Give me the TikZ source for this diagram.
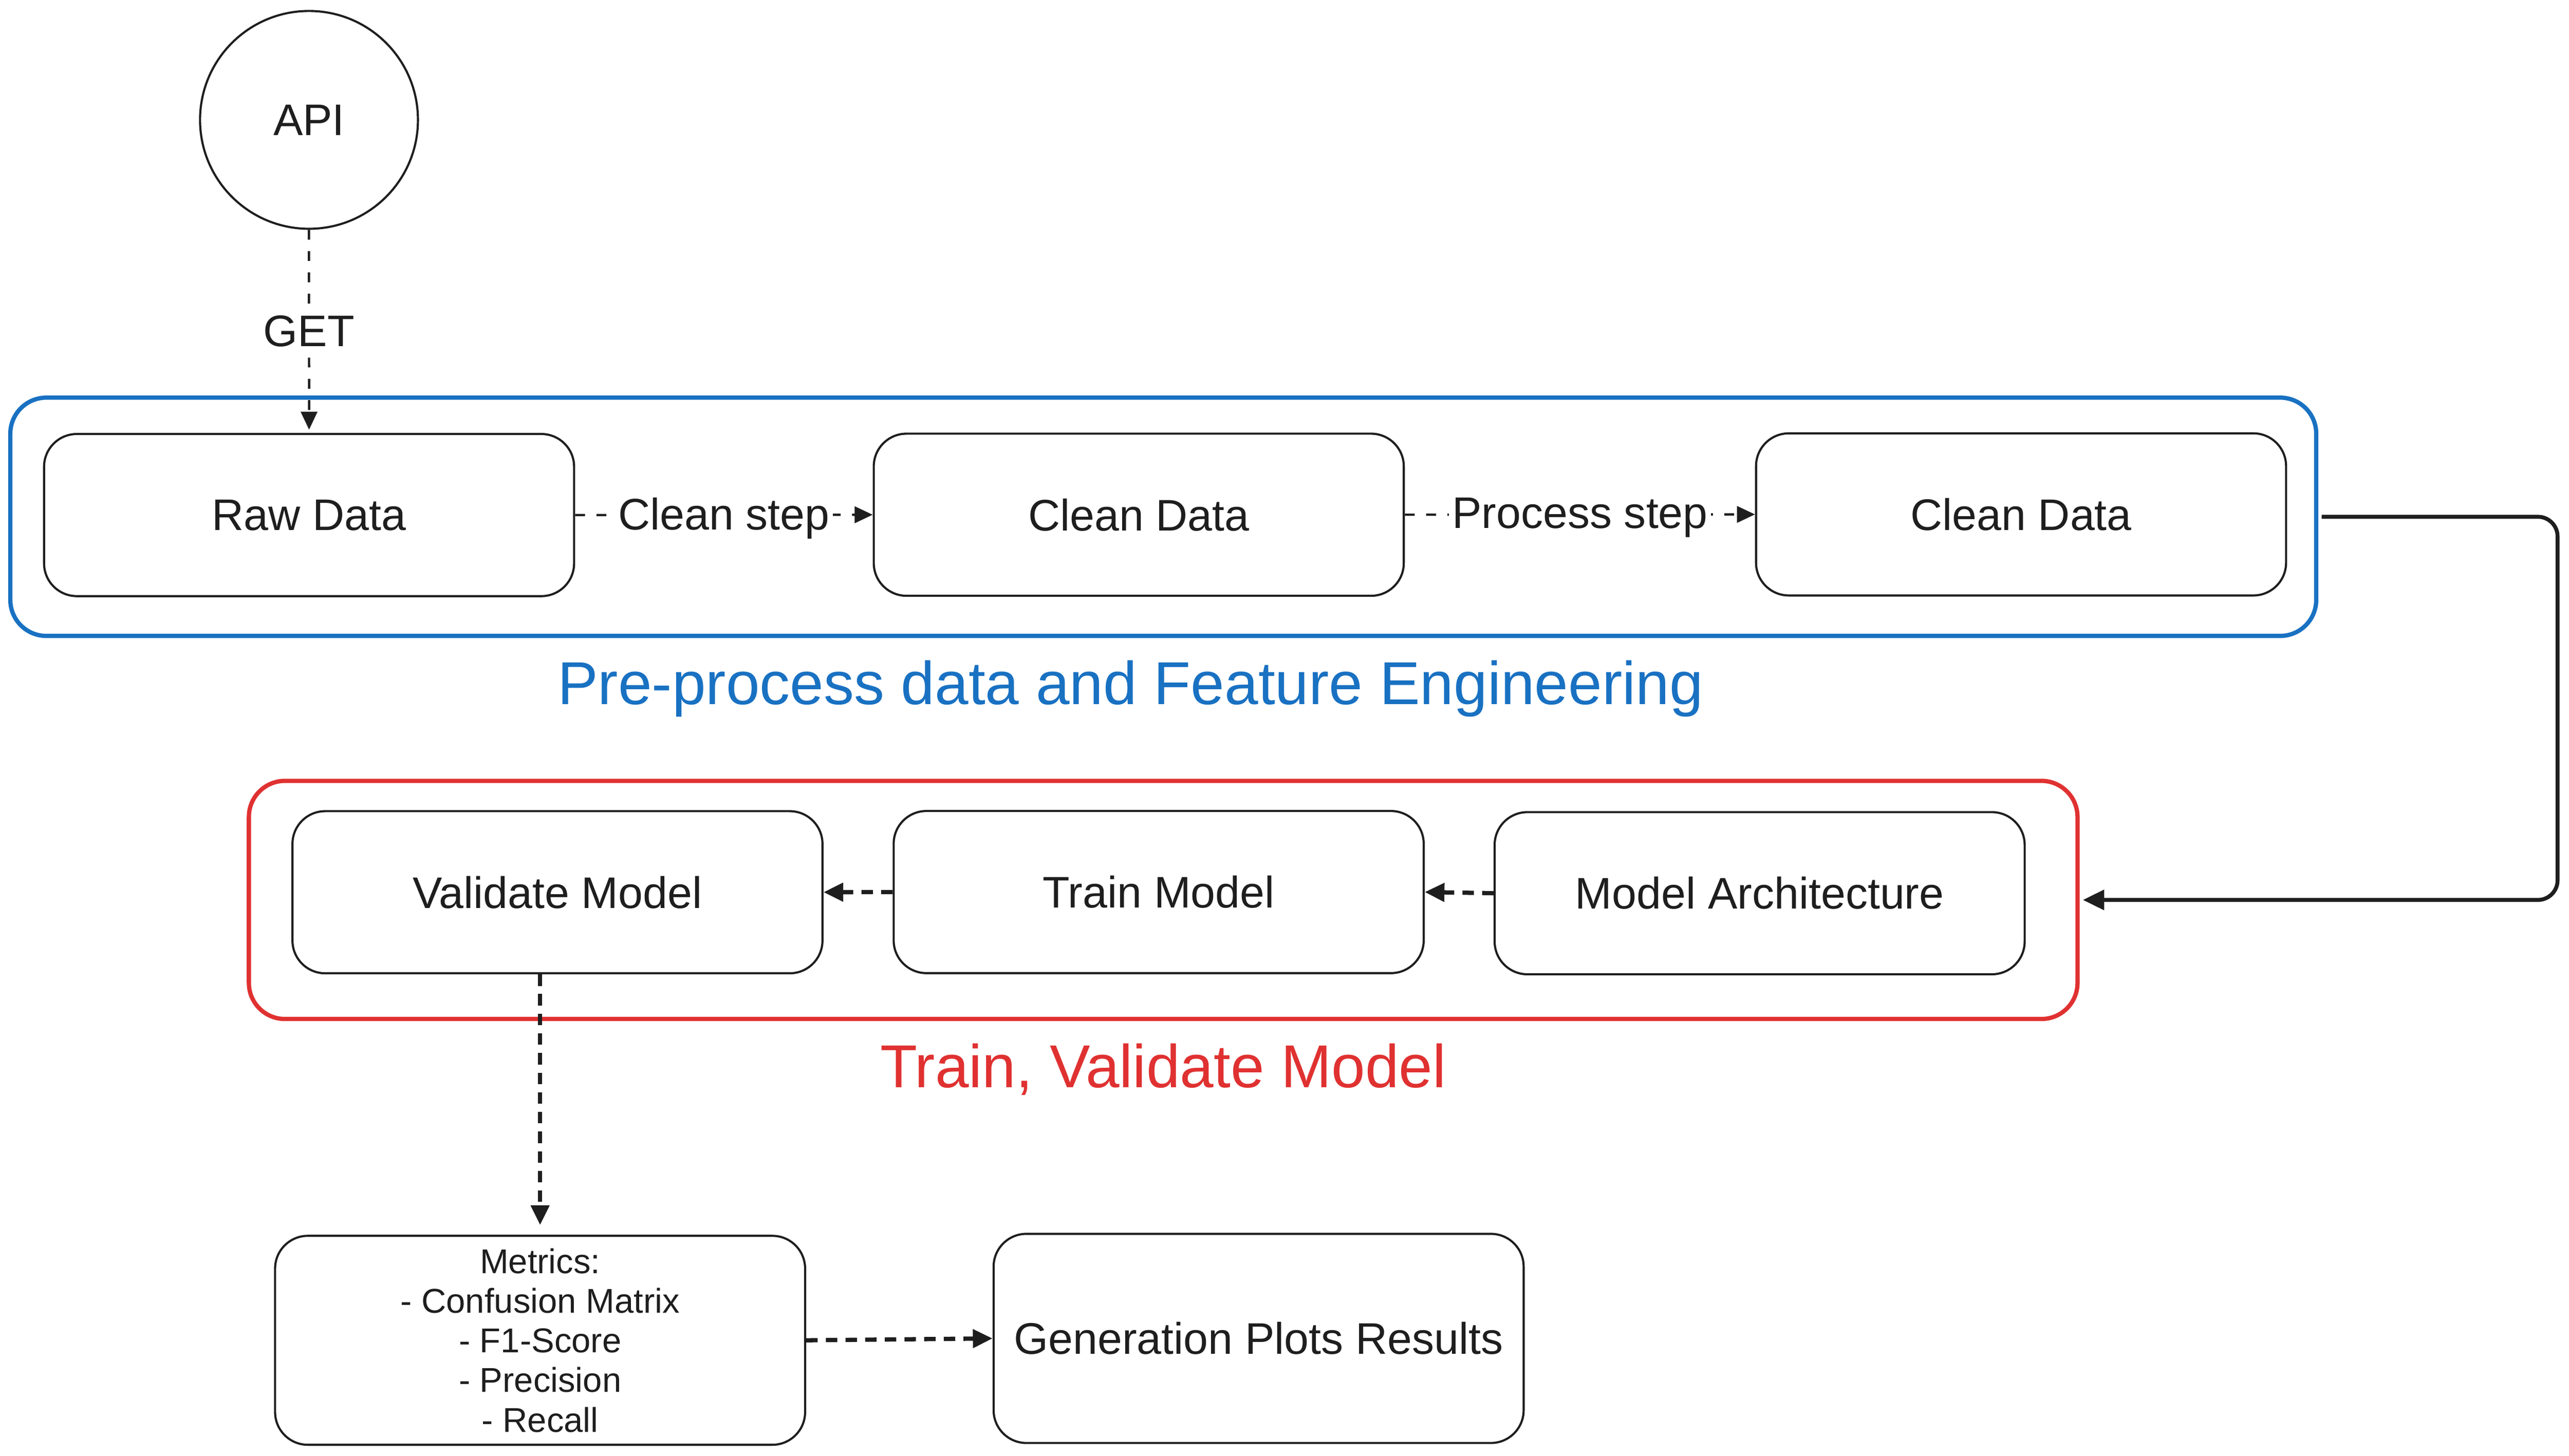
\documentclass[tikz,border=0pt]{standalone}
\usepackage{fontspec}
\setmainfont{Liberation Sans}
\usetikzlibrary{arrows.meta}
\definecolor{ink}{HTML}{1E1E1E}
\definecolor{exblue}{HTML}{1971C2}
\definecolor{exred}{HTML}{E03131}
\begin{document}
\begin{tikzpicture}[x=1pt,y=-1pt,
 box/.style={draw=ink, line width=1.3pt, rounded corners=20pt, minimum width=323.5pt, minimum height=99pt, inner sep=0pt, font=\fontsize{27}{32}\selectfont, text=ink},
 group/.style={line width=2.6pt, rounded corners=22pt, inner sep=0pt},
 thinarrow/.style={draw=ink, line width=1.4pt, dash pattern=on 6pt off 7pt, -{Triangle[length=11pt,width=10pt]}},
 thickarrow/.style={draw=ink, line width=2.6pt, dash pattern=on 7pt off 5pt, -{Triangle[length=12pt,width=11pt]}},
 lbl/.style={fill=white, inner sep=2pt, font=\fontsize{27}{32}\selectfont, text=ink},
 title/.style={font=\fontsize{37}{42}\selectfont, anchor=base},
]
\useasboundingbox (0,0) rectangle (1568,888.9);

% groups
\node[group, draw=exblue, minimum width=1407.4pt, minimum height=145.5pt] (blue) at (710,315.55) {};
\node[group, draw=exred, minimum width=1116.1pt, minimum height=145.4pt] (red) at (709.95,549.5) {};

% API
\node[draw=ink, line width=1.3pt, circle, minimum size=133pt, inner sep=0pt, font=\fontsize{27}{32}\selectfont, text=ink] (api) at (188.6,73.2) {API};

% boxes
\node[box] (raw) at (188.65,314.5) {Raw Data};
\node[box] (clean1) at (695.05,314.3) {Clean Data};
\node[box] (clean2) at (1233.55,314.1) {Clean Data};
\node[box] (val) at (340.25,544.8) {Validate Model};
\node[box] (train) at (707.2,544.7) {Train Model};
\node[box] (arch) at (1074,545.4) {Model Architecture};
\node[box, minimum height=127.6pt, align=center, font=\fontsize{21}{24.25}\selectfont] (met) at (329.65,818.4) {Metrics:\\- Confusion Matrix\\- F1-Score\\- Precision\\- Recall};
\node[box, minimum height=127.7pt] (gen) at (768.2,817.25) {Generation Plots Results};

% titles
\node[title, text=exblue] (t1) at (690,430) {Pre-process data and Feature Engineering};
\node[title, text=exred] (t2) at (710,664) {Train, Validate Model};

% connectors
\draw[thinarrow, shorten >=2pt] (api.south) -- node[lbl] {GET} (raw.north);
\draw[thinarrow] (raw.east) -- node[lbl, yshift=-2pt] {Clean step} (clean1.west);
\draw[thinarrow] (clean1.east) -- node[lbl, yshift=-2pt] {Process step} (clean2.west);

\coordinate (rturn) at (1561,430);
\draw[ink, line width=2.4pt, rounded corners=12pt, shorten <=2pt, shorten >=2pt, -{Triangle[length=13pt,width=12pt]}] (blue.east) -- (blue.east -| rturn) -- (red.east -| rturn) -- (red.east);

\draw[thickarrow] (arch.west) -- (train.east);
\draw[thickarrow] (train.west) -- (val.east);
\draw[thickarrow, shorten >=6pt] (val.south -| met.north) -- (met.north);
\draw[thickarrow] (met.east) -- (gen.west);
\end{tikzpicture}
\end{document}
